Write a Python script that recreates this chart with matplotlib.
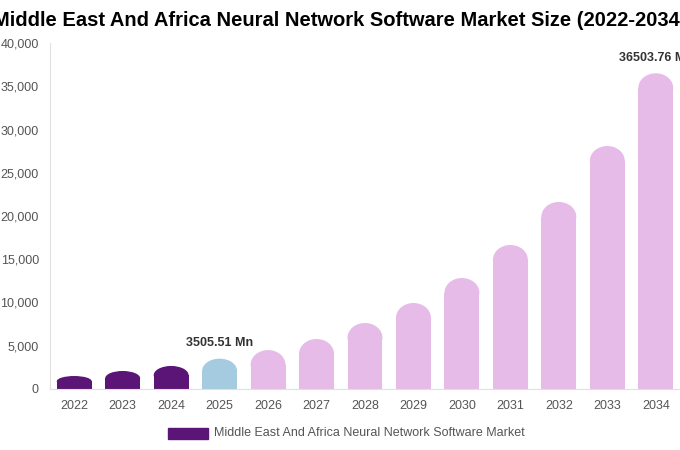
import matplotlib
matplotlib.use("Agg")
import matplotlib.pyplot as plt
from matplotlib.patches import Ellipse, Rectangle

plt.rcParams['font.family'] = ['Liberation Sans', 'DejaVu Sans']

years = ["2022","2023","2024","2025","2026","2027","2028","2029","2030","2031","2032","2033","2034"]
values = [1500, 2080, 2660, 3505.51, 4500, 5780, 7630, 9940, 12830, 16650, 21620, 28090, 36503.76]
colors = ["#5b1577"]*3 + ["#a4cbe0"] + ["#e6bbe8"]*9

fig = plt.figure(figsize=(6.8, 4.5), dpi=100)
ax = fig.add_axes([0.0735, 0.1356, 0.9265, 0.7688])
ax.set_xlim(-0.5, 12.5)
ax.set_ylim(0, 40000)
w = 0.72
r = 1700
for i, (v, c) in enumerate(zip(values, colors)):
    rr = min(r, v * 0.4)
    ax.add_patch(Rectangle((i - w/2, 0), w, v - rr, color=c, lw=0))
    ax.add_patch(Ellipse((i, v - rr), w, 2*rr, color=c, lw=0))

ax.set_xticks(range(len(years)))
ax.set_xticklabels(years)
ax.set_yticks(range(0, 40001, 5000))
ax.set_yticklabels([f"{t:,}" for t in range(0, 40001, 5000)])
ax.tick_params(colors="#555555", labelsize=9, length=0, pad=8)
for s in ["top", "right"]:
    ax.spines[s].set_visible(False)
ax.spines["left"].set_color("#e0e0e0")
ax.spines["bottom"].set_color("#e0e0e0")

ax.text(3, values[3] + 1100, "3505.51 Mn", ha="center", va="bottom", fontsize=9, fontweight="bold", color="#333333")
ax.text(12, values[12] + 1100, "36503.76 Mn", ha="center", va="bottom", fontsize=9, fontweight="bold", color="#333333", clip_on=False)

fig.text(0.5, 0.955, "Middle East And Africa Neural Network Software Market Size (2022-2034)",
         ha="center", va="center", fontsize=14.5, fontweight="bold")
fig.patches.append(Rectangle((168/680, (450-439)/450), 40/680, 11/450, transform=fig.transFigure, color="#5b1577"))
fig.text(214/680, (450-433)/450, "Middle East And Africa Neural Network Software Market",
         ha="left", va="center", fontsize=9, color="#555555")
fig.savefig("out.png", dpi=100)
